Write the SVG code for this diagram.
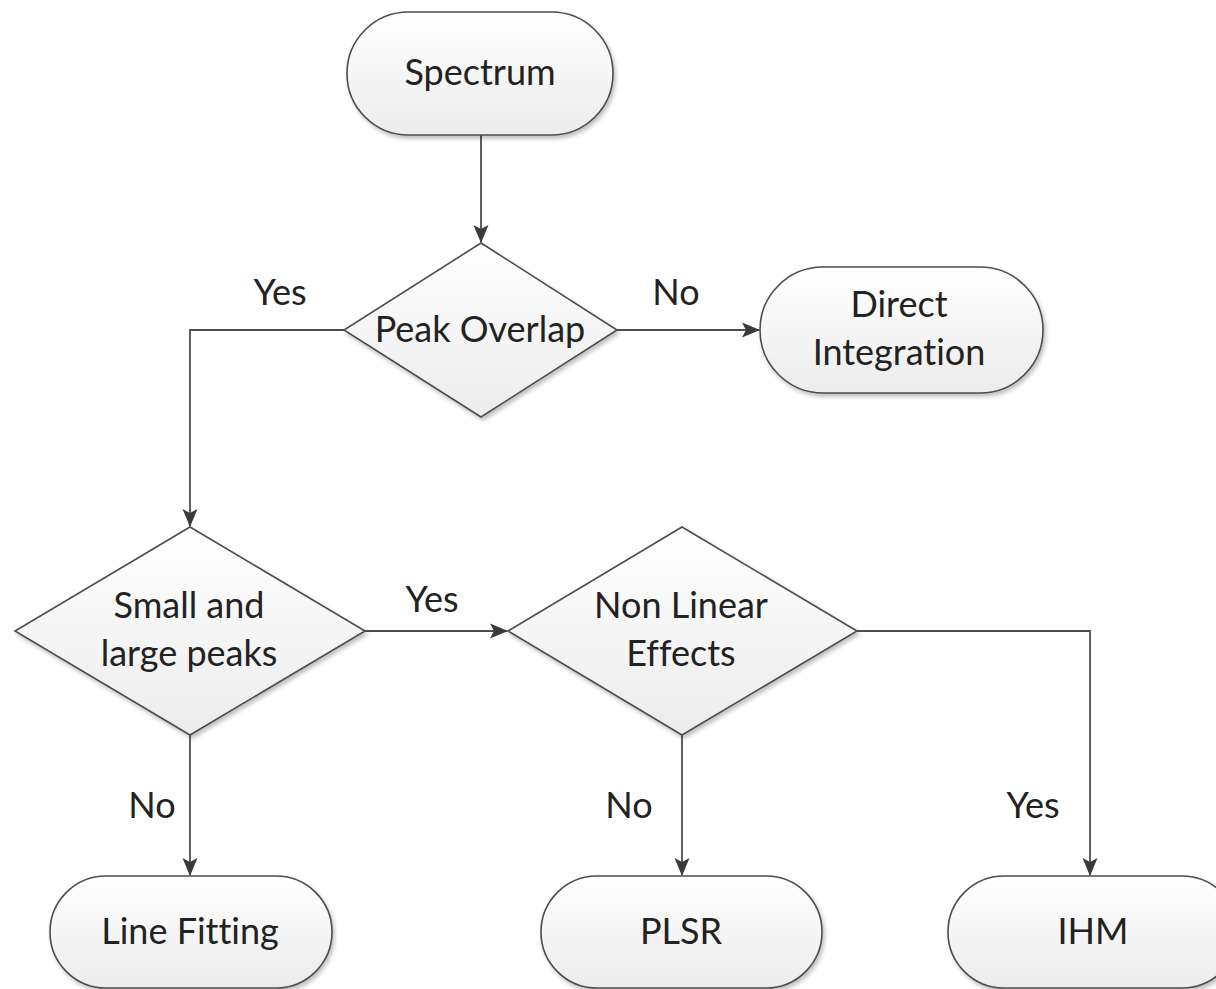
<svg xmlns="http://www.w3.org/2000/svg" width="1216" height="989" viewBox="0 0 1216 989">
<defs>
<linearGradient id="g" x1="0" y1="0" x2="0" y2="1">
<stop offset="0" stop-color="#ffffff"/>
<stop offset="1" stop-color="#ececec"/>
</linearGradient>
<filter id="sh" x="-10%" y="-10%" width="130%" height="130%">
<feGaussianBlur in="SourceAlpha" stdDeviation="2"/>
<feOffset dx="2" dy="3"/>
<feComponentTransfer><feFuncA type="linear" slope="0.25"/></feComponentTransfer>
<feMerge><feMergeNode/><feMergeNode in="SourceGraphic"/></feMerge>
</filter>
<marker id="arr" markerWidth="18" markerHeight="18" refX="17" refY="9" orient="auto" markerUnits="userSpaceOnUse">
<path d="M0,1.5 L18,9 L0,16.5 L4,9 Z" fill="#3a3a3a"/>
</marker>
</defs>
<style>
.shape{fill:url(#g);stroke:#4d4d4d;stroke-width:1.6;filter:url(#sh)}
.t{font-family:Lato,"Open Sans",sans-serif;font-size:36px;fill:#222222;text-anchor:middle;font-variant-ligatures:none}
.c{fill:none;stroke:#4d4d4d;stroke-width:1.8}
</style>
<rect width="1216" height="989" fill="#ffffff"/>
<g id="connectors">
<path class="c" d="M481,135 L481,242" marker-end="url(#arr)"/>
<path class="c" d="M344,330 L190,330 L190,526" marker-end="url(#arr)"/>
<path class="c" d="M617,330 L759,330" marker-end="url(#arr)"/>
<path class="c" d="M365,631 L507,631" marker-end="url(#arr)"/>
<path class="c" d="M190,735 L190,875" marker-end="url(#arr)"/>
<path class="c" d="M682,735 L682,875" marker-end="url(#arr)"/>
<path class="c" d="M857,631 L1090,631 L1090,875" marker-end="url(#arr)"/>
<text class="t" x="280" y="305">Yes</text>
<text class="t" x="676" y="305">No</text>
<text class="t" x="432" y="612">Yes</text>
<text class="t" x="152" y="818">No</text>
<text class="t" x="629" y="818">No</text>
<text class="t" x="1033" y="818">Yes</text>
</g>
<g id="spectrum">
<rect class="shape" x="347" y="12" width="266" height="123" rx="61.5"/>
<text class="t" x="480" y="85">Spectrum</text>
</g>
<g id="peak-overlap">
<polygon class="shape" points="481,243 617,330 481,417 344,330"/>
<text class="t" x="480" y="342">Peak Overlap</text>
</g>
<g id="direct-integration">
<rect class="shape" x="760" y="267" width="283" height="126" rx="63"/>
<text class="t" x="899" y="317">Direct</text>
<text class="t" x="899" y="365">Integration</text>
</g>
<g id="small-large">
<polygon class="shape" points="190,527 365,631 190,735 15,631"/>
<text class="t" x="189" y="618">Small and</text>
<text class="t" x="189" y="666">large peaks</text>
</g>
<g id="non-linear">
<polygon class="shape" points="682,527 857,631 682,735 508,631"/>
<text class="t" x="681" y="618">Non Linear</text>
<text class="t" x="681" y="666">Effects</text>
</g>
<g id="line-fitting">
<rect class="shape" x="50" y="876" width="282" height="112" rx="56"/>
<text class="t" x="190" y="944">Line Fitting</text>
</g>
<g id="plsr">
<rect class="shape" x="541" y="876" width="281" height="112" rx="56"/>
<text class="t" x="681" y="944">PLSR</text>
</g>
<g id="ihm">
<rect class="shape" x="948" y="876" width="290" height="112" rx="56"/>
<text class="t" x="1093" y="944">IHM</text>
</g>
</svg>
